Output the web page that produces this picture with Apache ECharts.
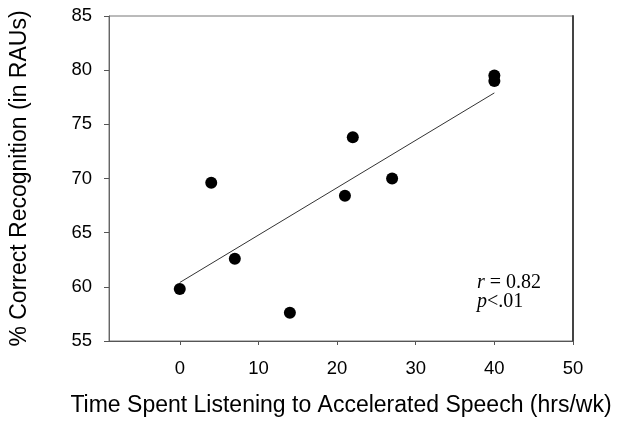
<!DOCTYPE html>
<html>
<head>
<meta charset="utf-8">
<script src="https://cdn.jsdelivr.net/npm/echarts@6/dist/echarts.min.js"></script>
<style>
html,body{margin:0;padding:0;background:#fff;}
#c{width:624px;height:426px;}
</style>
</head>
<body>
<div id="c"></div>
<script>
// Data
var hoursPerWeek = [0, 4, 7, 14, 21, 22, 27, 40, 40];
var recognition = [59.8, 69.6, 62.6, 57.6, 68.4, 73.8, 70.0, 79.5, 79.0];
var fitX = [0, 40];
var fitY = [60.4, 77.9];
var xTicks = [0, 10, 20, 30, 40, 50];
var yTicks = [55, 60, 65, 70, 75, 80, 85];

var pts = hoursPerWeek.map(function (x, i) { return [x, recognition[i]]; });
var fit = fitX.map(function (x, i) { return [x, fitY[i]]; });

var chart = echarts.init(document.getElementById('c'), null, {renderer: 'canvas'});
var font = 'Liberation Sans, Arial, sans-serif';
chart.setOption({
  animation: false,
  backgroundColor: '#fff',
  grid: {left: 107, top: 16, right: 51, bottom: 85, show: true, borderColor: '#777', borderWidth: 1, backgroundColor: 'transparent'},
  xAxis: {
    type: 'value', min: -9, max: 50,
    name: 'Time Spent Listening to Accelerated Speech (hrs/wk)',
    nameLocation: 'middle', nameGap: 53,
    nameTextStyle: {fontFamily: font, fontSize: 23, color: '#000'},
    axisLine: {show: true, onZero: false, lineStyle: {color: '#555', width: 1}},
    axisTick: {show: true, inside: false, length: 4, customValues: xTicks, lineStyle: {color: '#555'}},
    axisLabel: {customValues: xTicks, fontFamily: font, fontSize: 18.5, color: '#000', margin: 18},
    splitLine: {show: false}
  },
  yAxis: [{
    type: 'value', min: 55, max: 85, interval: 5,
    name: '% Correct Recognition (in RAUs)',
    nameLocation: 'middle', nameGap: 78,
    nameTextStyle: {fontFamily: font, fontSize: 23, color: '#000'},
    axisLine: {show: true, onZero: false, lineStyle: {color: '#666', width: 1}},
    axisTick: {show: true, inside: false, length: 5, lineStyle: {color: '#555'}},
    axisLabel: {fontFamily: font, fontSize: 18.5, color: '#000', margin: 17},
    splitLine: {show: false}
  }, {
    type: 'value', min: 55, max: 85, interval: 5, position: 'right',
    axisLine: {show: true, onZero: false, lineStyle: {color: '#444', width: 2}},
    axisTick: {show: false}, axisLabel: {show: false}, splitLine: {show: false}
  }],
  series: [{
    type: 'line', data: fit, symbol: 'none',
    lineStyle: {color: '#333', width: 1}, z: 1
  }, {
    type: 'scatter', data: pts, symbol: 'circle', symbolSize: 12,
    itemStyle: {color: '#000', opacity: 1}, z: 2
  }],
  graphic: [{
    type: 'text', left: 477, top: 273,
    style: {
      text: '{i|r} = 0.82\n{i|p}<.01',
      font: '20px "Liberation Serif", "Times New Roman", serif',
      fill: '#000',
      lineHeight: 19,
      rich: {
        i: {fontStyle: 'italic', fontFamily: 'Liberation Serif', fontSize: 20, lineHeight: 19}
      }
    }
  }]
});
</script>
</body>
</html>
